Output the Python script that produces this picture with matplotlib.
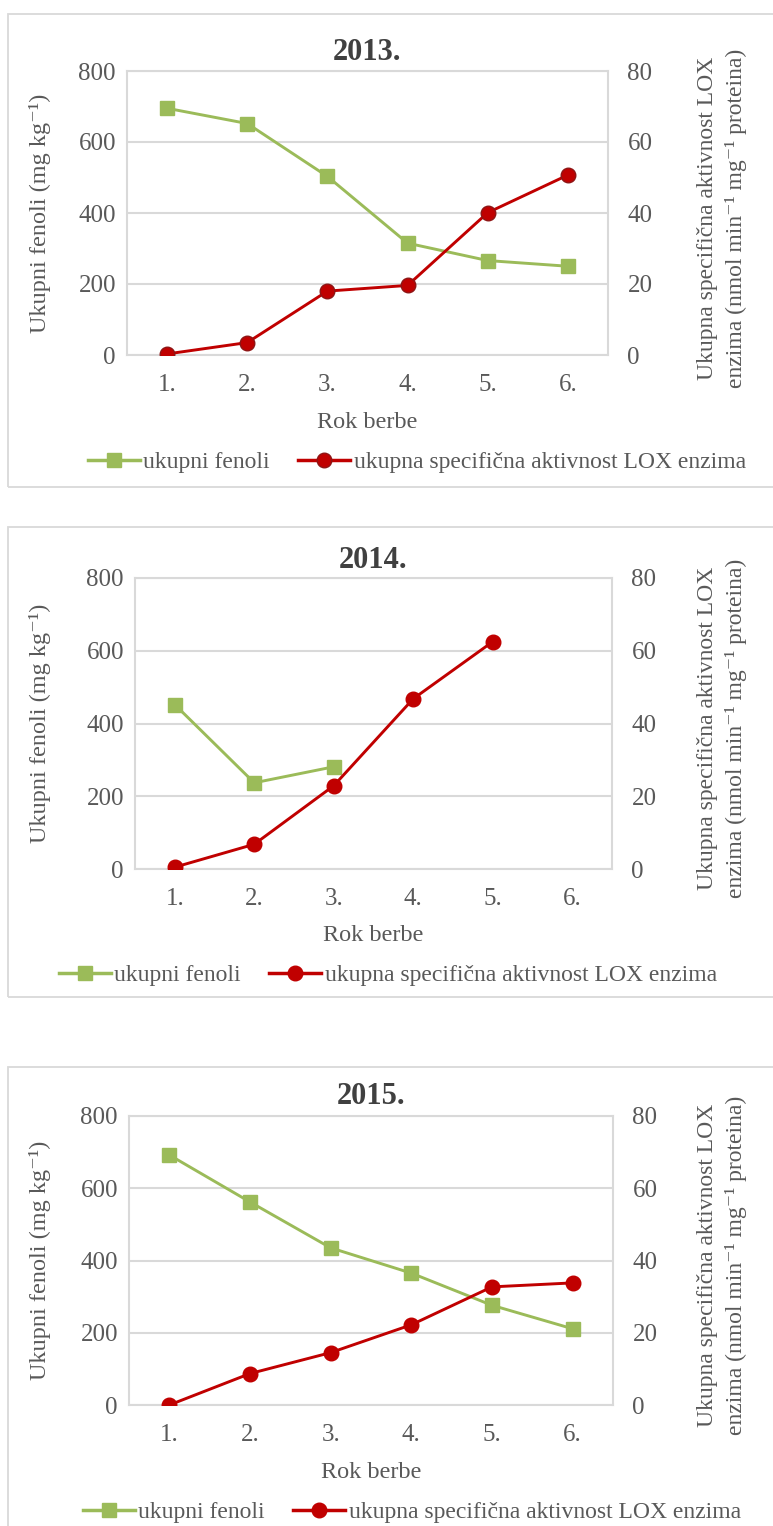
import numpy as np
import matplotlib
matplotlib.use('Agg')
import matplotlib.pyplot as plt
from matplotlib.lines import Line2D
from matplotlib.patches import Rectangle

plt.rcParams['font.family'] = ['Liberation Serif', 'DejaVu Serif']

# data
rokovi = ['1.', '2.', '3.', '4.', '5.', '6.']
godine = ['2013.', '2014.', '2015.']
fenoli_2013 = [695, 652, 503, 315, 266, 250]
lox_2013 = [0.3, 3.5, 18.0, 19.6, 40.1, 50.7]
fenoli_2014 = [452, 237, 281, np.nan, np.nan, np.nan]
lox_2014 = [0.5, 6.8, 22.9, 46.8, 62.5, np.nan]
fenoli_2015 = [692, 562, 435, 365, 276, 211]
lox_2015 = [0.0, 8.7, 14.5, 22.2, 32.7, 33.8]

green = '#9bbb59'
red = '#c00000'
grey = '#595959'
W, H = 773, 1526
FS = 17.5

fig = plt.figure(figsize=(W / 100, H / 100), dpi=100)


def fx(x):
    return x / W


def fy(y):
    return 1 - y / H


# pixel layout per panel: plot box, title y, xlabel y, legend center, frame
panels = [
    dict(l=127, r=608, t=71, b=355, title=52, xlab=422, leg=(417, 462), box=(8, 14, 487), lox_edge='#8e1515'),
    dict(l=135, r=612, t=578, b=869, title=560, xlab=936, leg=(388, 975), box=(8, 527, 997), lox_edge=red),
    dict(l=129, r=613, t=1116, b=1405, title=1097, xlab=1472, leg=(412, 1512), box=(8, 1067, 1540), lox_edge=red),
]
fenoli = [fenoli_2013, fenoli_2014, fenoli_2015]
lox = [lox_2013, lox_2014, lox_2015]

x = np.arange(1, len(rokovi) + 1)

for p, god, fen, lx in zip(panels, godine, fenoli, lox):
    bx, bt, bb = p['box']
    fig.patches.append(Rectangle((fx(bx), fy(bb)), fx(W + 20 - bx), fy(bt) - fy(bb),
                                 transform=fig.transFigure, fill=False,
                                 edgecolor='#d9d9d9', lw=1.3))

    ax = fig.add_axes([fx(p['l']), fy(p['b']), fx(p['r'] - p['l']), fy(p['t']) - fy(p['b'])])
    ax.plot(x, fen, color=green, lw=2.1, marker='s', ms=10.5, mfc=green, mec=green,
            label='ukupni fenoli')
    ax.set_ylim(0, 800)
    ax.set_yticks([0, 200, 400, 600, 800])
    ax.set_xlim(0.5, 6.5)
    ax.set_xticks(x)
    ax.set_xticklabels(rokovi)
    ax.grid(axis='y', color='#d9d9d9', lw=1.5)
    ax.set_axisbelow(True)
    for s in ax.spines.values():
        s.set_color('#d9d9d9')
        s.set_linewidth(1.5)
    ax.tick_params(axis='y', length=0, pad=8, labelsize=18, labelcolor=grey)
    ax.tick_params(axis='x', length=0, pad=14, labelsize=18, labelcolor=grey)

    ax2 = ax.twinx()
    ax2.plot(x, lx, color=red, lw=2.1, marker='o', ms=10.5, mfc=red, mec=p['lox_edge'],
             label='ukupna specifična aktivnost LOX enzima')
    ax2.set_ylim(0, 80)
    ax2.set_yticks([0, 20, 40, 60, 80])
    for s in ax2.spines.values():
        s.set_visible(False)
    ax2.tick_params(axis='y', length=0, pad=14, labelsize=18, labelcolor=grey)

    cy = (p['t'] + p['b']) / 2
    fig.text(fx((p['l'] + p['r']) / 2), fy(p['title']), god, ha='center', va='center',
             fontsize=22, fontweight='bold', color='#404040')
    fig.text(fx(40), fy(cy), 'Ukupni fenoli (mg kg⁻¹)', rotation=90,
             ha='center', va='center', fontsize=FS, color=grey)
    fig.text(fx(722), fy(cy + 5),
             'Ukupna specifična aktivnost LOX\nenzima (nmol min⁻¹ mg⁻¹ proteina)',
             rotation=90, ha='center', va='center', fontsize=17, color=grey,
             linespacing=1.4, multialignment='center')
    fig.text(fx((p['l'] + p['r']) / 2), fy(p['xlab']), 'Rok berbe', ha='center', va='center',
             fontsize=FS, color=grey)

    handles = [Line2D([], [], color=green, lw=2.5, marker='s', ms=10.5),
               Line2D([], [], color=red, lw=2.5, marker='o', ms=10.5, mec=p['lox_edge'])]
    leg = fig.legend(handles, ['ukupni fenoli', 'ukupna specifična aktivnost LOX enzima'],
                     loc='center', bbox_to_anchor=(fx(p['leg'][0]), fy(p['leg'][1])),
                     ncol=2, frameon=False, fontsize=17, handlelength=2.2,
                     handletextpad=0.15, columnspacing=1.2, borderpad=0)
    for t in leg.get_texts():
        t.set_color(grey)

fig.savefig('out.png', dpi=100, facecolor='white')
